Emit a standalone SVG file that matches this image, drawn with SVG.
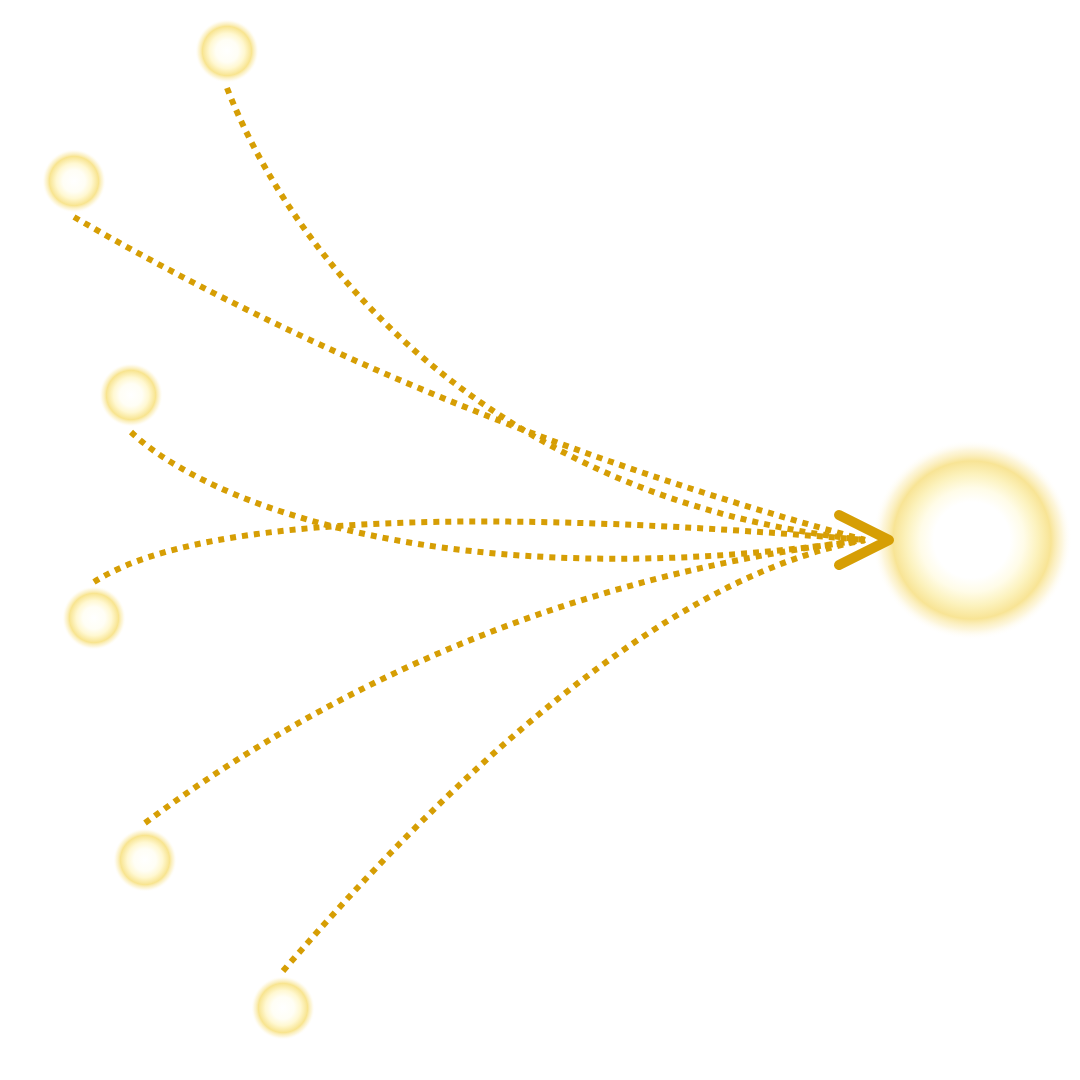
<svg xmlns="http://www.w3.org/2000/svg" width="1080" height="1080" viewBox="0 0 1080 1080">
<defs>
<radialGradient id="glow">
<stop offset="0" stop-color="#ffffff"/>
<stop offset="0.38" stop-color="#ffffff"/>
<stop offset="0.52" stop-color="#fffce8"/>
<stop offset="0.66" stop-color="#fcf2bd"/>
<stop offset="0.79" stop-color="#f8e495"/>
<stop offset="0.9" stop-color="#fbedb8" stop-opacity="0.5"/>
<stop offset="1" stop-color="#ffffff" stop-opacity="0"/>
</radialGradient>
<radialGradient id="glowS">
<stop offset="0" stop-color="#ffffff"/>
<stop offset="0.35" stop-color="#fffef5"/>
<stop offset="0.55" stop-color="#fff8d2"/>
<stop offset="0.77" stop-color="#f8e48f"/>
<stop offset="0.9" stop-color="#fbefbf" stop-opacity="0.5"/>
<stop offset="1" stop-color="#ffffff" stop-opacity="0"/>
</radialGradient>
</defs>
<style>
.edge{fill:none;stroke:#d69e04;stroke-width:6;stroke-dasharray:6 6}
.head{fill:none;stroke:#d69e04;stroke-width:10;stroke-linecap:round;stroke-linejoin:round}
</style>
<rect width="1080" height="1080" fill="#ffffff"/>
<g id="target"><circle cx="972" cy="540" r="100" fill="url(#glow)"/></g>
<g id="n1"><circle cx="227" cy="51" r="32" fill="url(#glowS)"/></g>
<g id="n2"><circle cx="74" cy="181" r="32" fill="url(#glowS)"/></g>
<g id="n3"><circle cx="131" cy="395" r="32" fill="url(#glowS)"/></g>
<g id="n4"><circle cx="94" cy="618" r="32" fill="url(#glowS)"/></g>
<g id="n5"><circle cx="145" cy="860" r="32" fill="url(#glowS)"/></g>
<g id="n6"><circle cx="283" cy="1008" r="32" fill="url(#glowS)"/></g>
<g id="connectors">
<path class="edge" d="M227,88 C290,250 480,500 865,540"/>
<path class="edge" d="M74,217 Q427,422 865,540"/>
<path class="edge" d="M131,432 C205,503 450,600 865,540"/>
<path class="edge" d="M94,582 C190,520 450,505 865,540"/>
<path class="edge" d="M145,823 Q462,588 865,540"/>
<path class="edge" d="M283,971 Q616,585 865,540"/>
<polyline class="head" points="839,515 889,540 839,565"/>
</g>
</svg>
